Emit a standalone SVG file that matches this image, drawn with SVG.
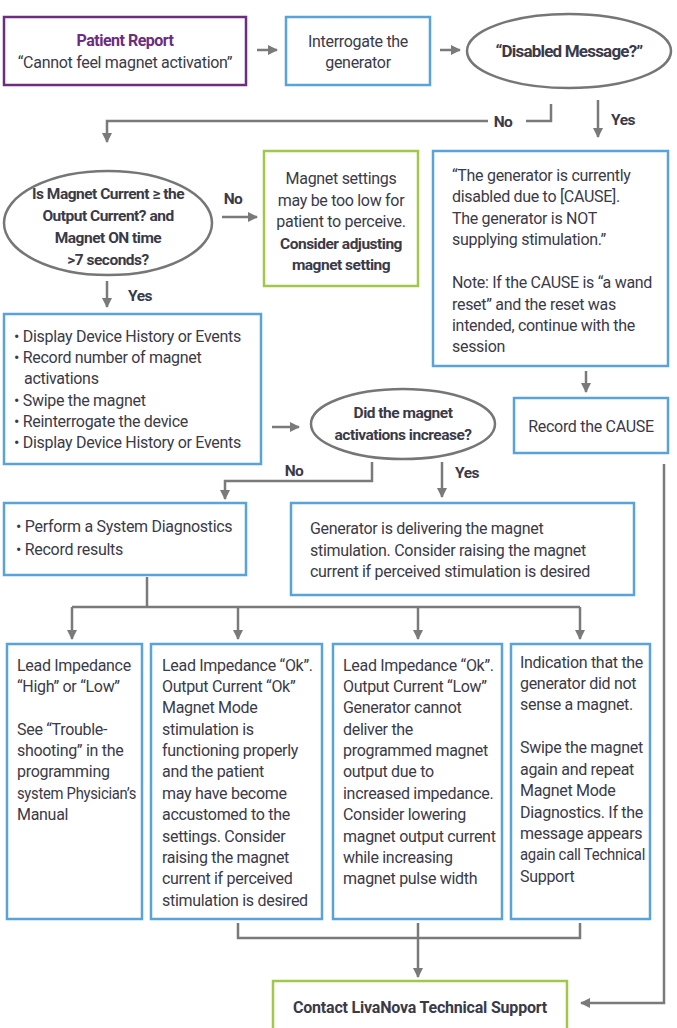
<svg xmlns="http://www.w3.org/2000/svg" width="677" height="1028" viewBox="0 0 677 1028">
<style>
text{font-family:"Roboto","Liberation Sans",sans-serif;font-size:16px;letter-spacing:-0.3px;fill:#3a3a48}
.b{font-weight:bold;font-size:15.5px;letter-spacing:-0.5px}
.c{text-anchor:middle}
.pu{fill:none;stroke:#6d2c80;stroke-width:2.5}
.bl{fill:none;stroke:#5aa3d9;stroke-width:2.5}
.gr{fill:none;stroke:#a2c84b;stroke-width:2.5}
.el{fill:none;stroke:#767676;stroke-width:2.5}
.ln{fill:none;stroke:#7a7a7a;stroke-width:2.5}
.ar{marker-end:url(#ah)}
</style>
<defs>
<marker id="ah" viewBox="0 0 10 10" refX="9" refY="5" markerWidth="4" markerHeight="4" orient="auto" markerUnits="strokeWidth">
<path d="M0,0 L10,5 L0,10 z" fill="#7a7a7a"/>
</marker>
</defs>
<rect width="677" height="1028" fill="#fff"/>
<g id="connectors">
<line class="ln ar" x1="257" y1="50" x2="277" y2="50"/>
<line class="ln ar" x1="440" y1="50" x2="460" y2="50"/>
<polyline class="ln" points="551,104 551,121 526,121"/>
<polyline class="ln ar" points="488,121 107,121 107,142"/>
<line class="ln ar" x1="598" y1="100" x2="598" y2="137"/>
<line class="ln ar" x1="222" y1="217" x2="257" y2="217"/>
<line class="ln ar" x1="107" y1="281" x2="107" y2="307"/>
<line class="ln ar" x1="586" y1="371" x2="586" y2="392"/>
<line class="ln ar" x1="272" y1="427" x2="299" y2="427"/>
<polyline class="ln ar" points="372,462 372,481 225,481 225,499"/>
<line class="ln ar" x1="442" y1="462" x2="442" y2="497"/>
<polyline class="ln ar" points="664,464 664,1003 581,1003"/>
<line class="ln" x1="147" y1="577" x2="147" y2="607"/>
<line class="ln" x1="72" y1="607" x2="580" y2="607"/>
<line class="ln ar" x1="72" y1="607" x2="72" y2="639"/>
<line class="ln ar" x1="238" y1="607" x2="238" y2="639"/>
<line class="ln ar" x1="418" y1="607" x2="418" y2="639"/>
<line class="ln ar" x1="580" y1="607" x2="580" y2="639"/>
<polyline class="ln" points="238,923 238,938 580,938 580,923"/>
<line class="ln ar" x1="418" y1="923" x2="418" y2="977"/>
<text class="b c" x="503" y="127">No</text>
<text class="b c" x="623" y="125">Yes</text>
<text class="b c" x="233" y="204">No</text>
<text class="b c" x="140" y="301">Yes</text>
<text class="b c" x="294" y="476">No</text>
<text class="b c" x="467" y="478">Yes</text>
</g>
<g id="patient">
<rect class="pu" x="4" y="17" width="242" height="68"/>
<text class="b c" x="125" y="46" style="fill:#6d2c80;font-size:16px">Patient Report</text>
<text class="c" x="125" y="68">“Cannot feel magnet activation”</text>
</g>
<g id="interrogate">
<rect class="bl" x="286" y="17" width="144" height="68"/>
<text class="c" x="358" y="47">Interrogate the</text>
<text class="c" x="358" y="68">generator</text>
</g>
<g id="disabled-q">
<ellipse class="el" cx="569" cy="51" rx="102" ry="37"/>
<text class="b c" x="569" y="57" style="font-size:17px;letter-spacing:-0.8px">“Disabled Message?”</text>
</g>
<g id="magnet-q">
<ellipse class="el" cx="108" cy="223" rx="104" ry="52"/>
<text class="b c" x="108" y="199">Is Magnet Current ≥ the</text>
<text class="b c" x="108" y="221">Output Current? and</text>
<text class="b c" x="108" y="243">Magnet ON time</text>
<text class="b c" x="108" y="265">&gt;7 seconds?</text>
</g>
<g id="settings-low">
<rect class="gr" x="264" y="151" width="154" height="135"/>
<text class="c" x="341" y="184">Magnet settings</text>
<text class="c" x="341" y="206">may be too low for</text>
<text class="c" x="341" y="227">patient to perceive.</text>
<text class="b c" x="341" y="249">Consider adjusting</text>
<text class="b c" x="341" y="270">magnet setting</text>
</g>
<g id="disabled-msg">
<rect class="bl" x="433" y="151" width="235" height="215"/>
<text x="452" y="181">“The generator is currently</text>
<text x="452" y="202">disabled due to [CAUSE].</text>
<text x="452" y="224">The generator is NOT</text>
<text x="452" y="245">supplying stimulation.”</text>
<text x="452" y="288">Note: If the CAUSE is “a wand</text>
<text x="452" y="310">reset” and the reset was</text>
<text x="452" y="331">intended, continue with the</text>
<text x="452" y="352">session</text>
</g>
<g id="record-cause">
<rect class="bl" x="514" y="398" width="154" height="55"/>
<text class="c" x="591" y="432">Record the CAUSE</text>
</g>
<g id="display-history">
<rect class="bl" x="4" y="314" width="257" height="150"/>
<text x="14" y="342">• Display Device History or Events</text>
<text x="14" y="363">• Record number of magnet</text>
<text x="24" y="384">activations</text>
<text x="14" y="406">• Swipe the magnet</text>
<text x="14" y="427">• Reinterrogate the device</text>
<text x="14" y="448">• Display Device History or Events</text>
</g>
<g id="increase-q">
<ellipse class="el" cx="403" cy="424" rx="92" ry="35"/>
<text class="b c" x="403" y="418">Did the magnet</text>
<text class="b c" x="403" y="440">activations increase?</text>
</g>
<g id="diagnostics">
<rect class="bl" x="4" y="503" width="242" height="72"/>
<text x="16" y="532">•  Perform a System Diagnostics</text>
<text x="16" y="555">•  Record results</text>
</g>
<g id="delivering">
<rect class="bl" x="291" y="503" width="343" height="92"/>
<text x="310" y="534">Generator is delivering the magnet</text>
<text x="310" y="556">stimulation. Consider raising the magnet</text>
<text x="310" y="577">current if perceived stimulation is desired</text>
</g>
<g id="result-1">
<rect class="bl" x="7" y="644" width="135" height="275"/>
<text x="17" y="671">Lead Impedance</text>
<text x="17" y="692">“High” or “Low”</text>
<text x="17" y="735">See “Trouble-</text>
<text x="17" y="756">shooting” in the</text>
<text x="17" y="777">programming</text>
<text x="17" y="799" textLength="119" lengthAdjust="spacingAndGlyphs">system Physician’s</text>
<text x="17" y="820">Manual</text>
</g>
<g id="result-2">
<rect class="bl" x="151" y="644" width="171" height="275"/>
<text x="162" y="671">Lead Impedance “Ok”.</text>
<text x="162" y="692">Output Current “Ok”</text>
<text x="162" y="713">Magnet Mode</text>
<text x="162" y="735">stimulation is</text>
<text x="162" y="756">functioning properly</text>
<text x="162" y="777">and the patient</text>
<text x="162" y="799">may have become</text>
<text x="162" y="820">accustomed to the</text>
<text x="162" y="842">settings. Consider</text>
<text x="162" y="863">raising the magnet</text>
<text x="162" y="884">current if perceived</text>
<text x="162" y="906">stimulation is desired</text>
</g>
<g id="result-3">
<rect class="bl" x="333" y="644" width="169" height="275"/>
<text x="343" y="671">Lead Impedance “Ok”.</text>
<text x="343" y="692">Output Current “Low”</text>
<text x="343" y="713">Generator cannot</text>
<text x="343" y="735">deliver the</text>
<text x="343" y="756">programmed magnet</text>
<text x="343" y="777">output due to</text>
<text x="343" y="799">increased impedance.</text>
<text x="343" y="820">Consider lowering</text>
<text x="343" y="842">magnet output current</text>
<text x="343" y="863">while increasing</text>
<text x="343" y="884">magnet pulse width</text>
</g>
<g id="result-4">
<rect class="bl" x="511" y="644" width="139" height="275"/>
<text x="520" y="668">Indication that the</text>
<text x="520" y="689">generator did not</text>
<text x="520" y="710">sense a magnet.</text>
<text x="520" y="753">Swipe the magnet</text>
<text x="520" y="775">again and repeat</text>
<text x="520" y="796">Magnet Mode</text>
<text x="520" y="818">Diagnostics. If the</text>
<text x="520" y="839">message appears</text>
<text x="520" y="860" textLength="125" lengthAdjust="spacingAndGlyphs">again call Technical</text>
<text x="520" y="882">Support</text>
</g>
<g id="contact">
<rect class="gr" x="273" y="981" width="294" height="60"/>
<text class="b c" x="420" y="1013" style="font-size:16px;letter-spacing:-0.2px">Contact LivaNova Technical Support</text>
</g>
</svg>
